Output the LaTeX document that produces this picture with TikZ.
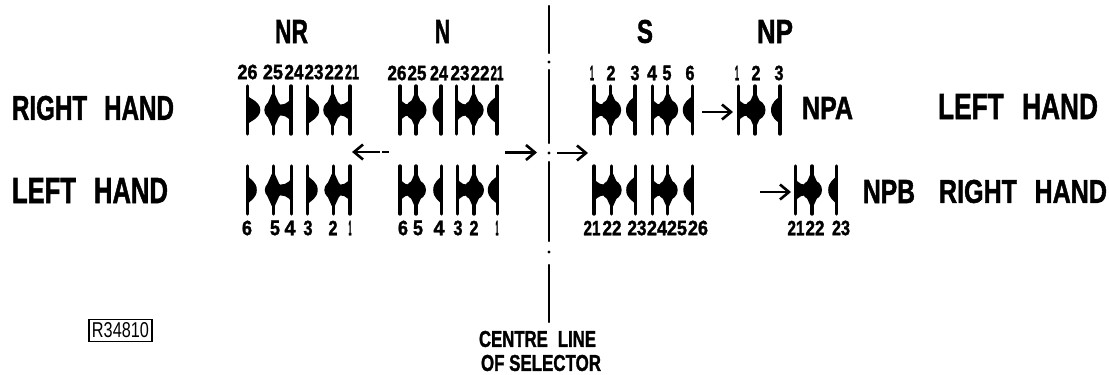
\documentclass[tikz,border=0pt]{standalone}
\usepackage{graphicx}
\usepackage{fontspec}
\setmainfont{Liberation Sans}[BoldFeatures={FakeBold=1.6}]
\usetikzlibrary{arrows.meta}
\tikzset{
  x=1pt,y=-1pt,
  contactline/.style={line width=3.4pt,line cap=round,black},
  flow/.style={line width=2.6pt,black,-{Straight Barb[length=9pt,width=15pt,line width=2.6pt]}},
  tag/.style={inner sep=0pt,outer sep=0pt,anchor=center,text=black},
  refbox/.style={draw=black,line width=1.6pt,inner xsep=3pt,inner ysep=3.5pt,anchor=center}
}
% #1 name, #2 left, #3 right, #4 top, #5 bottom, #6 text: text stretched to its box
\newcommand{\boxtext}[6]{%
  \pgfmathsetmacro{\bw}{#3-(#2)}\pgfmathsetmacro{\bh}{#5-(#4)}%
  \node[tag] (#1) at ({(#2+#3)/2},{(#4+#5)/2}) {\resizebox{\bw pt}{\bh pt}{\bfseries #6}};}
% centred number: #1 name, #2 centre x, #3 centre y, #4 width, #5 text
\newcommand{\numtag}[5]{%
  \node[tag] (#1) at (#2,#3) {\resizebox{#4pt}{14.5pt}{\bfseries #5}};}
\newcommand{\contactbar}[2]{\draw[contactline] (#1,#2-24) -- (#1,#2+24);}
% pair: circle on #2, bowtie reaching line #1, centre #3, radius #4
\newcommand{\contactpair}[4]{%
  \contactbar{#1}{#3}\contactbar{#2}{#3}%
  \fill[black] (#2,#3) circle (#4);
  \pgfmathsetmacro{\sg}{(#2>#1)?1:-1}%
  \fill[black] (#1,#3-12) .. controls ({#1+\sg*2},#3-7) and ({#2-\sg*8},#3-3) .. ({#2-\sg*3},#3-7)
    -- (#2,#3-14) -- (#2,#3+14) -- ({#2-\sg*3},#3+7)
    .. controls ({#2-\sg*8},#3+3) and ({#1+\sg*2},#3+7) .. (#1,#3+12) -- cycle;
  \fill[black] (#2-1.5,#3-16) -- (#2+1.5,#3-16) -- (#2+6,#3-6) -- (#2-6,#3-6) -- cycle;
  \fill[black] (#2-1.5,#3+16) -- (#2+1.5,#3+16) -- (#2+6,#3+6) -- (#2-6,#3+6) -- cycle;}
% half contact: line #1, centre #2, bulge signed #3
\newcommand{\contacthalf}[3]{%
  \contactbar{#1}{#2}%
  \fill[black] (#1,#2-14) .. controls ({#1+.3*(#3)},#2-11) and ({#1+(#3)},#2-8) .. ({#1+(#3)},#2)
   .. controls ({#1+(#3)},#2+8) and ({#1+.3*(#3)},#2+11) .. (#1,#2+14) -- cycle;}
\begin{document}
\begin{tikzpicture}
\useasboundingbox[fill=white] (0,0) rectangle (1109,375);
% titles
\boxtext{tNR}{275}{308}{20}{43}{NR}
\boxtext{tN}{435}{450}{20}{43}{N}
\boxtext{tS}{637}{653}{20}{43}{S}
\boxtext{tNP}{757}{793}{20}{43}{NP}
% side labels
\boxtext{rhL}{12}{174}{96}{120}{RIGHT\hspace{0.7em}HAND}
\boxtext{lhL}{12}{168}{178}{203}{LEFT\hspace{0.7em}HAND}
\boxtext{npa}{802}{853}{97}{119}{NPA}
\boxtext{lhR}{938}{1098}{94}{119}{LEFT\hspace{0.7em}HAND}
\boxtext{npb}{863}{915}{180}{203}{NPB}
\boxtext{rhR}{939}{1107}{180}{203}{RIGHT\hspace{0.7em}HAND}
% centre line
\coordinate (c1) at (549,6); \coordinate (c2) at (549,53);
\coordinate (c3) at (549,70); \coordinate (c4) at (549,143);
\coordinate (c5) at (549,162); \coordinate (c6) at (549,241);
\coordinate (c7) at (549,265); \coordinate (c8) at (549,322);
\draw[line width=2.4pt,line cap=round] (c1) -- (c2) (c3) -- (c4) (c5) -- (c6) (c7) -- (c8);
\fill (549,62) circle (1.6) (549,153) circle (1.6) (549,252) circle (1.6);
% upper row
\contacthalf{247.3}{110}{13}
\contactpair{291}{273.3}{110}{9}
\contacthalf{307.7}{110}{11.5}
\contactpair{350}{332.7}{110}{9.5}
\contactpair{400}{416}{110}{10.5}
\contacthalf{441}{110}{-8.5}
\contactpair{456.7}{473.7}{110}{10}
\contacthalf{497}{110}{-10}
\contactpair{594}{610.7}{110}{10.5}
\contacthalf{635}{110}{-9}
\contactpair{652.3}{667.7}{110}{10.5}
\contacthalf{692.3}{110}{-9.5}
\contactpair{738.3}{755}{110}{10.5}
\contacthalf{780}{110}{-9}
% lower row
\contacthalf{247.3}{190}{9.5}
\contactpair{291.5}{273.3}{190}{8.5}
\contacthalf{307.7}{190}{10}
\contactpair{350}{333.3}{190}{9}
\contactpair{400}{416}{190}{10}
\contacthalf{441.7}{190}{-8.5}
\contactpair{457.3}{474}{190}{10}
\contacthalf{497.3}{190}{-9.5}
\contactpair{594}{611.7}{190}{10}
\contacthalf{635.7}{190}{-9.5}
\contactpair{652.3}{667.7}{190}{10}
\contacthalf{692.3}{190}{-9}
\contactpair{795.3}{812}{190}{10}
\contacthalf{836.7}{190}{-8.5}
% numbers, upper
\numtag{a26}{247.5}{72}{20}{26}
\numtag{a25}{273}{72}{20}{25}
\numtag{a24}{294}{72}{19}{24}
\numtag{a23}{314}{72}{19}{23}
\numtag{a22}{334}{72}{19}{22}
\numtag{a21}{352}{72}{14}{21}
\numtag{b26}{397}{73}{19}{26}
\numtag{b25}{417}{73}{19}{25}
\numtag{b24}{439}{73}{18}{24}
\numtag{b23}{460}{73}{19}{23}
\numtag{b22}{480}{73}{19}{22}
\numtag{b21}{497}{73}{13}{21}
\numtag{c1n}{592}{73}{4}{1}
\numtag{c2n}{611}{73}{9}{2}
\numtag{c3n}{635}{73}{9}{3}
\numtag{c4n}{652}{73}{10}{4}
\numtag{c5n}{667}{73}{9}{5}
\numtag{c6n}{690}{73}{9}{6}
\numtag{d1n}{737}{73}{4}{1}
\numtag{d2n}{756}{73}{9}{2}
\numtag{d3n}{779}{73}{9}{3}
% numbers, lower
\numtag{e6}{247}{228}{10}{6}
\numtag{e5}{275}{228}{10}{5}
\numtag{e4}{290}{228}{11}{4}
\numtag{e3}{308}{228}{9}{3}
\numtag{e2}{333}{228}{9}{2}
\numtag{e1}{350}{228}{3}{1}
\numtag{f6}{403}{228}{10}{6}
\numtag{f5}{418}{228}{10}{5}
\numtag{f4}{439}{228}{11}{4}
\numtag{f3}{458}{228}{9}{3}
\numtag{f2}{474}{228}{9}{2}
\numtag{f1}{497}{228}{3}{1}
\numtag{g21}{592}{228}{17}{21}
\numtag{g22}{612}{228}{19}{22}
\numtag{g23}{637}{228}{19}{23}
\numtag{g24}{657}{228}{20}{24}
\numtag{g25}{677}{228}{20}{25}
\numtag{g26}{698}{228}{20}{26}
\numtag{h21}{796}{228}{17}{21}
\numtag{h22}{815}{228}{19}{22}
\numtag{h23}{841}{228}{18}{23}
% arrows
\coordinate (ar1) at (702,112); \coordinate (ar2) at (733,112);
\draw[flow] (ar1) -- (ar2);
\coordinate (ar3) at (389,152); \coordinate (ar4) at (352,152);
\draw[flow,dash pattern=on 7pt off 2pt on 40pt] (ar3) -- (ar4);
\coordinate (ar5) at (505,152.5); \coordinate (ar6) at (537,152.5);
\draw[flow] (ar5) -- (ar6);
\coordinate (ar7) at (557,153); \coordinate (ar8) at (588,153);
\draw[flow] (ar7) -- (ar8);
\coordinate (ar9) at (760,192); \coordinate (ar10) at (791,192);
\draw[flow] (ar9) -- (ar10);
% reference box and caption
\boxtext{cap1}{479}{596}{331}{347}{CENTRE\hspace{0.6em}LINE}
\boxtext{cap2}{481}{601}{355}{371}{OF SELECTOR}
\node[refbox] (ref) at (120.5,330.5) {\resizebox{57pt}{15pt}{R34810}};
\end{tikzpicture}
\end{document}
